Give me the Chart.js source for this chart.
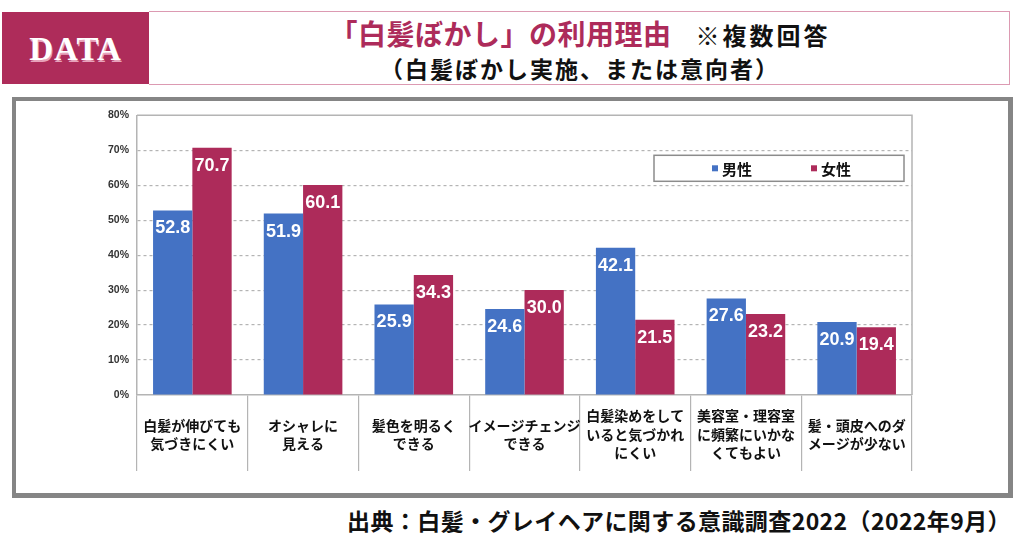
<!DOCTYPE html>
<html lang="ja">
<head>
<meta charset="utf-8">
<script src="https://cdn.jsdelivr.net/npm/chart.js@4/dist/chart.umd.min.js"></script>
<style>
  html, body { margin:0; padding:0; background:#fff; }
  body { width:1024px; height:538px; position:relative; overflow:hidden; font-family:"Noto Sans CJK JP","Noto Sans",sans-serif; }
  #dataBox { position:absolute; left:2px; top:12px; width:147px; height:72px; background:#ae2c5a; }
  #dataText { position:absolute; left:0; width:147px; top:1px; height:72px; line-height:72px; text-align:center;
    font-family:"Liberation Serif","DejaVu Serif",serif; font-weight:bold; font-size:33px; color:#fff;
    text-shadow:1px 2px 0 #e7a3bb; letter-spacing:1px; }
  #titleBox { position:absolute; left:149px; top:11px; width:860px; height:72px; border:1.5px solid #dc9ab2; border-left:none; }
  #t1 { position:absolute; left:149px; width:862px; top:12px; text-align:center; font-weight:bold; white-space:nowrap; line-height:42px; }
  #t1 .a { color:#ad2b5a; font-size:28px; letter-spacing:0.5px; }
  #t1 .b { color:#111; font-size:24px; letter-spacing:3px; margin-left:24px; }
  #t2 { position:absolute; left:149px; width:862px; top:51px; text-align:center; font-weight:bold; font-size:23px; letter-spacing:2px; color:#111; line-height:34px; white-space:nowrap; }
  #frame { position:absolute; left:12px; top:97px; width:992px; height:392px; border-style:solid; border-color:#858585; border-width:4px 5px 5px 4px; background:#fff; }
  #cv { position:absolute; left:0; top:0; }
  #foot { position:absolute; right:13px; top:503px; font-weight:bold; font-size:23px; letter-spacing:0.4px; color:#111; white-space:nowrap; line-height:34px; }
</style>
</head>
<body>
<div id="dataBox"><div id="dataText">DATA</div></div>
<div id="titleBox"></div>
<div id="t1"><span class="a">「白髪ぼかし」の利用理由</span><span class="b">※複数回答</span></div>
<div id="t2">（白髪ぼかし実施、または意向者）</div>
<div id="frame"><canvas id="cv" width="992" height="392"></canvas></div>
<div id="foot">出典：白髪・グレイヘアに関する意識調査2022（2022年9月）</div>
<script>
const categories = [
  ["白髪が伸びても","気づきにくい"],
  ["オシャレに","見える"],
  ["髪色を明るく","できる"],
  ["イメージチェンジ","できる"],
  ["白髪染めをして","いると気づかれ","にくい"],
  ["美容室・理容室","に頻繁にいかな","くてもよい"],
  ["髪・頭皮へのダ","メージが少ない"]
];
const seriesNames = ["男性", "女性"];
const maleValues = [52.8, 51.9, 25.9, 24.6, 42.1, 27.6, 20.9];
const femaleValues = [70.7, 60.1, 34.3, 30.0, 21.5, 23.2, 19.4];
const yTicks = [0, 10, 20, 30, 40, 50, 60, 70, 80];

const BLUE = "#4472c4";
const RED = "#ad2b5a";
const GRID = "#b4b4b4";

const valueLabels = {
  id: "valueLabels",
  afterDatasetsDraw(chart) {
    const ctx = chart.ctx;
    ctx.save();
    ctx.fillStyle = "#fff";
    ctx.font = "bold 18px 'Liberation Sans', Arial, sans-serif";
    ctx.textAlign = "center";
    ctx.textBaseline = "middle";
    chart.data.datasets.forEach((ds, di) => {
      chart.getDatasetMeta(di).data.forEach((bar, i) => {
        ctx.fillText(ds.data[i].toFixed(1), bar.x, bar.y + 18);
      });
    });
    ctx.restore();
  }
};

const plotFrame = {
  id: "plotFrame",
  beforeDatasetsDraw(chart) {
    const a = chart.chartArea, ctx = chart.ctx;
    ctx.save();
    ctx.strokeStyle = GRID;
    ctx.lineWidth = 1.5;
    ctx.beginPath();
    ctx.moveTo(a.left, a.top); ctx.lineTo(a.right, a.top); ctx.lineTo(a.right, a.bottom);
    ctx.stroke();
    ctx.restore();
  }
};

const boxLegend = {
  id: "boxLegend",
  afterDraw(chart) {
    const a = chart.chartArea, ctx = chart.ctx;
    const x = a.right - 258, y = a.top + 40, w = 250, h = 26;
    ctx.save();
    ctx.fillStyle = "#fff";
    ctx.fillRect(x, y, w, h);
    ctx.strokeStyle = "#8c8c8c";
    ctx.lineWidth = 1.5;
    ctx.strokeRect(x, y, w, h);
    ctx.font = "bold 15px 'Noto Sans CJK JP', sans-serif";
    ctx.textBaseline = "middle";
    ctx.textAlign = "left";
    const offsets = [58, 157];
    chart.data.datasets.forEach((ds, i) => {
      const sx = x + offsets[i];
      ctx.fillStyle = ds.backgroundColor;
      ctx.fillRect(sx, y + 10, 6, 6);
      ctx.fillStyle = "#111";
      ctx.fillText(ds.label, sx + 10, y + h / 2 + 0.5);
    });
    ctx.restore();
  }
};

new Chart(document.getElementById("cv"), {
  type: "bar",
  data: {
    labels: categories,
    datasets: [
      { label: seriesNames[0], data: maleValues, backgroundColor: BLUE },
      { label: seriesNames[1], data: femaleValues, backgroundColor: RED }
    ]
  },
  options: {
    responsive: false,
    animation: false,
    datasets: { bar: { categoryPercentage: 0.71, barPercentage: 1.0 } },
    layout: { padding: { left: 0, right: 96, top: 13, bottom: 0 } },
    plugins: { legend: { display: false }, tooltip: { enabled: false } },
    scales: {
      x: {
        grid: { display: true, drawOnChartArea: false, drawTicks: true, tickLength: 76, color: GRID, lineWidth: 1.2, offset: true },
        border: { display: true, color: GRID, width: 1.5 },
        ticks: {
          color: "#111", padding: -55, maxRotation: 0, minRotation: 0, autoSkip: false,
          crossAlign: "center",
          font: { family: "'Noto Sans CJK JP', sans-serif", size: 14, weight: "bold", lineHeight: 1.32 }
        },
        afterFit(s) { s.height = 98; }
      },
      y: {
        min: 0, max: 80,
        afterBuildTicks(s) { s.ticks = yTicks.map(v => ({ value: v })); },
        grid: {
          drawTicks: false,
          color: (c) => (c.tick && (c.tick.value === 0 || c.tick.value === 80)) ? "rgba(0,0,0,0)" : GRID,
          lineWidth: 1.2
        },
        border: { display: true, color: GRID, width: 1.5, dash: [3, 3] },
        ticks: {
          color: "#333", padding: 8,
          font: { family: "'Liberation Sans', Arial, sans-serif", size: 10.5, weight: "bold" },
          callback: (v) => v + "%"
        },
        afterFit(s) { s.width = 121; }
      }
    }
  },
  plugins: [valueLabels, plotFrame, boxLegend]
});
</script>
</body>
</html>
